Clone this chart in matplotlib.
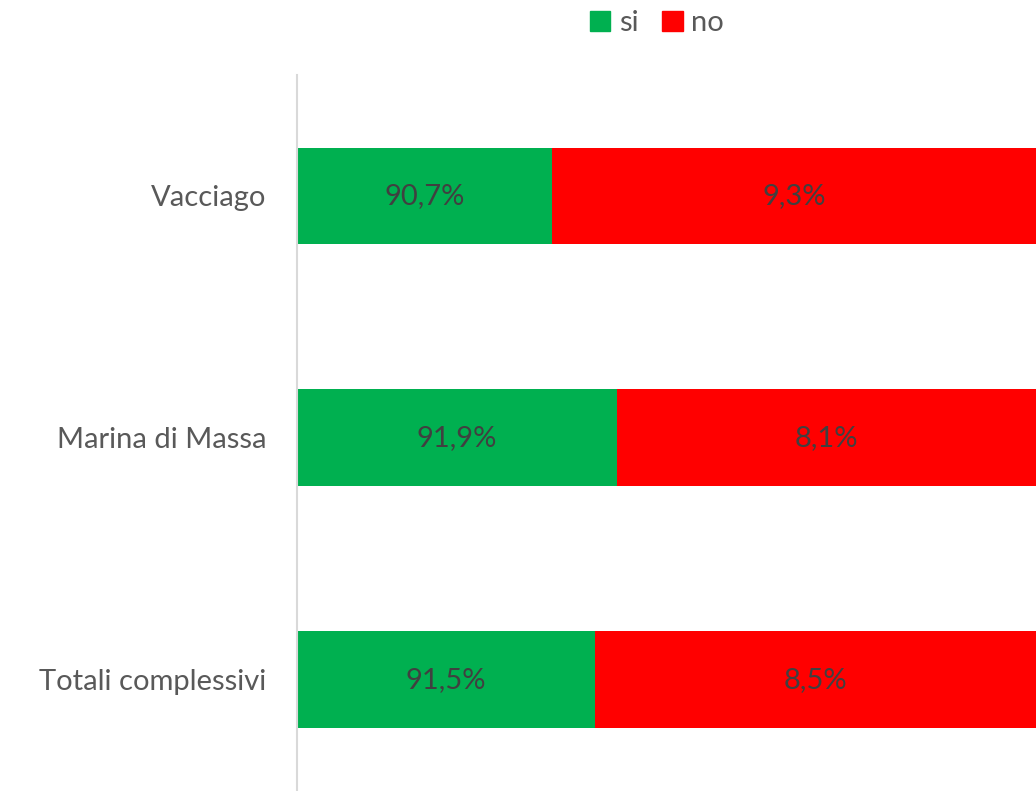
import matplotlib.pyplot as plt
from matplotlib.patches import Patch

plt.rcParams['font.family'] = ['Lato', 'DejaVu Sans']

categories = ['Vacciago', 'Marina di Massa', 'Totali complessivi']
si = [0.907, 0.919, 0.915]
no = [0.093, 0.081, 0.085]
si_labels = ['90,7%', '91,9%', '91,5%']
no_labels = ['9,3%', '8,1%', '8,5%']

green = '#00b050'
red = '#ff0000'

fig = plt.figure(figsize=(10.36, 7.91), dpi=100)
ax = fig.add_axes([297 / 1036, 0.0, 1 - 297 / 1036, (791 - 75) / 791])

y = range(len(categories))
b1 = ax.barh(y, si, height=0.4, color=green)
b2 = ax.barh(y, no, left=si, height=0.4, color=red)
ax.bar_label(b1, labels=si_labels, label_type='center', fontsize=21, color='#404040')
ax.bar_label(b2, labels=no_labels, label_type='center', fontsize=21, color='#404040')

ax.set_xlim(0.86, 0.9963)
ax.set_ylim(2.46, -0.5)
ax.set_yticks(list(y))
ax.set_yticklabels(categories, fontsize=21, color='#595959')
ax.tick_params(axis='y', length=0, pad=22)
ax.set_xticks([])
for s in ['top', 'right', 'bottom']:
    ax.spines[s].set_visible(False)
ax.spines['left'].set_color('#d9d9d9')
ax.spines['left'].set_linewidth(1.5)

handles = [Patch(color=green, label='si'), Patch(color=red, label='no')]
fig.legend(handles=handles, loc='center', bbox_to_anchor=(657 / 1036, 1 - 23 / 791),
           ncol=2, frameon=False, fontsize=21, handlelength=0.7, handleheight=0.7,
           handletextpad=0.3, columnspacing=0.8, labelcolor='#595959')

fig.savefig('out.png', dpi=100)
